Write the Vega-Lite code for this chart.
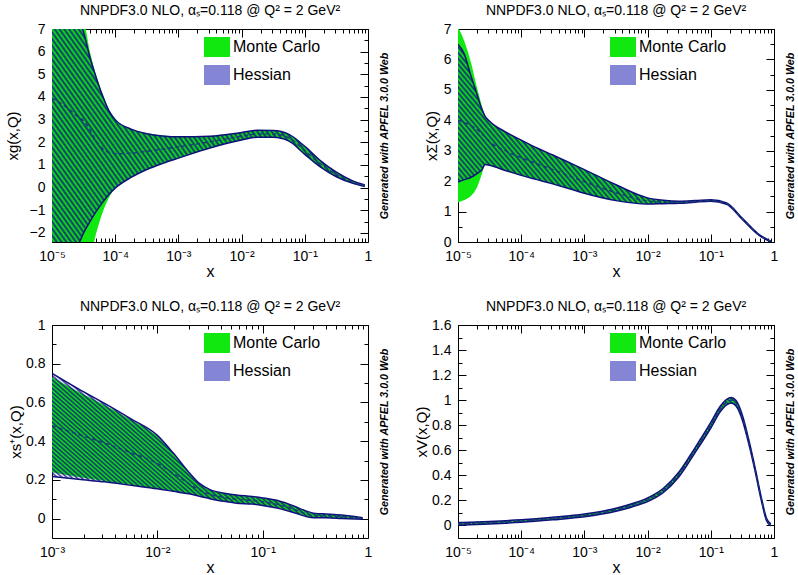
{
"$schema": "https://vega.github.io/schema/vega-lite/v6.json",
"background": "white",
"padding": {"left": 4, "top": 3, "right": 2, "bottom": 0},
"columns": 2,
"spacing": {"row": 83, "column": 90},
"bounds": "flush",
"resolve": {"scale": {"fill": "independent"}, "legend": {"fill": "independent"}},
"concat": [
{
 "width": 316, "height": 213,
 "title": {"text": "NNPDF3.0 NLO, αₛ=0.118 @ Q² = 2 GeV²"},
 "data": {"values": [
{"x":0.00001,"mcu":7.6,"mcl":-2.7,"hu":7.6,"hl":-2.7,"c":3.95},
{"x":0.0000178,"mcu":7.6,"mcl":-2.7,"hu":7.6,"hl":-2.7,"c":3.5},
{"x":0.0000251,"mcu":7.6,"mcl":-2.7,"hu":7.6,"hl":-2.55,"c":3.15},
{"x":0.0000316,"mcu":7.35,"mcl":-2.7,"hu":6.85,"hl":-2.0,"c":2.95},
{"x":0.0000398,"mcu":6.0,"mcl":-3.0,"hu":5.75,"hl":-1.5,"c":2.55},
{"x":0.0000501,"mcu":4.95,"mcl":-2.0,"hu":4.85,"hl":-1.05,"c":2.05},
{"x":0.0000631,"mcu":4.15,"mcl":-1.1,"hu":4.05,"hl":-0.65,"c":1.72},
{"x":0.0000794,"mcu":3.45,"mcl":-0.45,"hu":3.4,"hl":-0.3,"c":1.56},
{"x":0.0001,"mcu":3.02,"mcl":-0.02,"hu":3.0,"hl":-0.02,"c":1.5},
{"x":0.000178,"mcu":2.6,"mcl":0.45,"hu":2.58,"hl":0.45,"c":1.52},
{"x":0.000316,"mcu":2.4,"mcl":0.8,"hu":2.38,"hl":0.8,"c":1.6},
{"x":0.000562,"mcu":2.3,"mcl":1.07,"hu":2.28,"hl":1.07,"c":1.7},
{"x":0.001,"mcu":2.25,"mcl":1.3,"hu":2.24,"hl":1.3,"c":1.8},
{"x":0.00316,"mcu":2.28,"mcl":1.75,"hu":2.27,"hl":1.75,"c":2.02},
{"x":0.01,"mcu":2.43,"mcl":2.1,"hu":2.43,"hl":2.1,"c":2.27},
{"x":0.0178,"mcu":2.53,"mcl":2.22,"hu":2.53,"hl":2.22,"c":2.37},
{"x":0.0316,"mcu":2.52,"mcl":2.22,"hu":2.52,"hl":2.22,"c":2.37},
{"x":0.0562,"mcu":2.35,"mcl":2.05,"hu":2.35,"hl":2.05,"c":2.2},
{"x":0.1,"mcu":1.82,"mcl":1.47,"hu":1.82,"hl":1.47,"c":1.64},
{"x":0.178,"mcu":1.18,"mcl":0.9,"hu":1.18,"hl":0.9,"c":1.04},
{"x":0.316,"mcu":0.68,"mcl":0.48,"hu":0.68,"hl":0.48,"c":0.58},
{"x":0.562,"mcu":0.31,"mcl":0.2,"hu":0.31,"hl":0.2,"c":0.26},
{"x":0.891,"mcu":0.12,"mcl":0.05,"hu":0.12,"hl":0.05,"c":0.08}
 ]},
 "resolve": {"axis": {"x": "independent", "y": "independent"}},
 "layer": [
  {"mark": {"type": "area", "clip": true, "opacity": 1, "interpolate": "monotone"},
   "encoding": {
    "x": {"field": "x", "type": "quantitative", "scale": {"type": "log", "domain": [0.00001, 1], "nice": false},
      "axis": {"orient": "bottom", "values": [0.00001,0.00002,0.00003,0.00004,0.00005,0.00006,0.00007,0.00008,0.00009,0.0001,0.0002,0.0003,0.0004,0.0005,0.0006,0.0007,0.0008,0.0009,0.001,0.002,0.003,0.004,0.005,0.006,0.007,0.008,0.009,0.01,0.02,0.03,0.04,0.05,0.06,0.07,0.08,0.09,0.1,0.2,0.3,0.4,0.5,0.6,0.7,0.8,0.9,1],
        "labelExpr": "abs(log(datum.value)/LN10 - round(log(datum.value)/LN10)) > 0.000001 ? '' : (round(log(datum.value)/LN10) == 0 ? '1' : '10' + ['⁻⁵','⁻⁴','⁻³','⁻²','⁻¹'][round(log(datum.value)/LN10) + 5])",
        "tickSize": {"condition": {"test": "abs(log(datum.value)/LN10 - round(log(datum.value)/LN10)) < 0.000001", "value": -8}, "value": -4},
        "labelPadding": 15, "title": "x", "titleX": 158, "titleY": 29, "titleBaseline": "middle", "titleFontSize": 16}},
    "y": {"field": "mcl", "type": "quantitative", "scale": {"domain": [-2.4, 7], "nice": false, "zero": false},
      "axis": {"orient": "left", "values": [-2,-1.5,-1,-0.5,0,0.5,1,1.5,2,2.5,3,3.5,4,4.5,5,5.5,6,6.5,7],
        "labelExpr": "datum.value % 1 === 0 ? format(datum.value, '~g') : ''",
        "tickSize": {"condition": {"test": "datum.value % 1 === 0", "value": -8}, "value": -4},
        "labelPadding": 15, "title": "xg(x,Q)", "titleX": -40, "titleBaseline": "middle"}},
    "y2": {"field": "mcu"},
    "fill": {"datum": "Monte Carlo", "type": "nominal", "scale": {"domain": ["Monte Carlo", "Hessian"], "range": ["#10e810", "#8585d5"]},
      "legend": {"title": null, "orient": "none", "legendX": 155, "legendY": 8, "symbolType": "M-1.3,-1H1.3V1H-1.3Z", "symbolSize": 400, "symbolStrokeWidth": 0, "symbolOpacity": 1, "labelFontSize": 16, "labelFont": "Liberation Sans", "labelColor": "#000", "rowPadding": 8, "labelOffset": 6, "padding": 0}}
   }},
  {"mark": {"type": "area", "clip": true, "interpolate": "monotone", "opacity": 1, "fill": {"gradient": "linear", "x1": 0, "y1": 1, "x2": 1.2, "y2": 0.364, "stops": [
{"offset":0,"color":"#118d"},{"offset":0.005,"color":"#1180"},{"offset":0.01,"color":"#118d"},{"offset":0.015,"color":"#1180"},{"offset":0.02,"color":"#118d"},{"offset":0.025,"color":"#1180"},{"offset":0.03,"color":"#118d"},{"offset":0.035,"color":"#1180"},{"offset":0.04,"color":"#118d"},{"offset":0.045,"color":"#1180"},
{"offset":0.05,"color":"#118d"},{"offset":0.055,"color":"#1180"},{"offset":0.06,"color":"#118d"},{"offset":0.065,"color":"#1180"},{"offset":0.07,"color":"#118d"},{"offset":0.075,"color":"#1180"},{"offset":0.08,"color":"#118d"},{"offset":0.085,"color":"#1180"},{"offset":0.09,"color":"#118d"},{"offset":0.095,"color":"#1180"},
{"offset":0.1,"color":"#118d"},{"offset":0.105,"color":"#1180"},{"offset":0.11,"color":"#118d"},{"offset":0.115,"color":"#1180"},{"offset":0.12,"color":"#118d"},{"offset":0.125,"color":"#1180"},{"offset":0.13,"color":"#118d"},{"offset":0.135,"color":"#1180"},{"offset":0.14,"color":"#118d"},{"offset":0.145,"color":"#1180"},
{"offset":0.15,"color":"#118d"},{"offset":0.155,"color":"#1180"},{"offset":0.16,"color":"#118d"},{"offset":0.165,"color":"#1180"},{"offset":0.17,"color":"#118d"},{"offset":0.175,"color":"#1180"},{"offset":0.18,"color":"#118d"},{"offset":0.185,"color":"#1180"},{"offset":0.19,"color":"#118d"},{"offset":0.195,"color":"#1180"},
{"offset":0.2,"color":"#118d"},{"offset":0.205,"color":"#1180"},{"offset":0.21,"color":"#118d"},{"offset":0.215,"color":"#1180"},{"offset":0.22,"color":"#118d"},{"offset":0.225,"color":"#1180"},{"offset":0.23,"color":"#118d"},{"offset":0.235,"color":"#1180"},{"offset":0.24,"color":"#118d"},{"offset":0.245,"color":"#1180"},
{"offset":0.25,"color":"#118d"},{"offset":0.255,"color":"#1180"},{"offset":0.26,"color":"#118d"},{"offset":0.265,"color":"#1180"},{"offset":0.27,"color":"#118d"},{"offset":0.275,"color":"#1180"},{"offset":0.28,"color":"#118d"},{"offset":0.285,"color":"#1180"},{"offset":0.29,"color":"#118d"},{"offset":0.295,"color":"#1180"},
{"offset":0.3,"color":"#118d"},{"offset":0.305,"color":"#1180"},{"offset":0.31,"color":"#118d"},{"offset":0.315,"color":"#1180"},{"offset":0.32,"color":"#118d"},{"offset":0.325,"color":"#1180"},{"offset":0.33,"color":"#118d"},{"offset":0.335,"color":"#1180"},{"offset":0.34,"color":"#118d"},{"offset":0.345,"color":"#1180"},
{"offset":0.35,"color":"#118d"},{"offset":0.355,"color":"#1180"},{"offset":0.36,"color":"#118d"},{"offset":0.365,"color":"#1180"},{"offset":0.37,"color":"#118d"},{"offset":0.375,"color":"#1180"},{"offset":0.38,"color":"#118d"},{"offset":0.385,"color":"#1180"},{"offset":0.39,"color":"#118d"},{"offset":0.395,"color":"#1180"},
{"offset":0.4,"color":"#118d"},{"offset":0.405,"color":"#1180"},{"offset":0.41,"color":"#118d"},{"offset":0.415,"color":"#1180"},{"offset":0.42,"color":"#118d"},{"offset":0.425,"color":"#1180"},{"offset":0.43,"color":"#118d"},{"offset":0.435,"color":"#1180"},{"offset":0.44,"color":"#118d"},{"offset":0.445,"color":"#1180"},
{"offset":0.45,"color":"#118d"},{"offset":0.455,"color":"#1180"},{"offset":0.46,"color":"#118d"},{"offset":0.465,"color":"#1180"},{"offset":0.47,"color":"#118d"},{"offset":0.475,"color":"#1180"},{"offset":0.48,"color":"#118d"},{"offset":0.485,"color":"#1180"},{"offset":0.49,"color":"#118d"},{"offset":0.495,"color":"#1180"},
{"offset":0.5,"color":"#118d"},{"offset":0.505,"color":"#1180"},{"offset":0.51,"color":"#118d"},{"offset":0.515,"color":"#1180"},{"offset":0.52,"color":"#118d"},{"offset":0.525,"color":"#1180"},{"offset":0.53,"color":"#118d"},{"offset":0.535,"color":"#1180"},{"offset":0.54,"color":"#118d"},{"offset":0.545,"color":"#1180"},
{"offset":0.55,"color":"#118d"},{"offset":0.555,"color":"#1180"},{"offset":0.56,"color":"#118d"},{"offset":0.565,"color":"#1180"},{"offset":0.57,"color":"#118d"},{"offset":0.575,"color":"#1180"},{"offset":0.58,"color":"#118d"},{"offset":0.585,"color":"#1180"},{"offset":0.59,"color":"#118d"},{"offset":0.595,"color":"#1180"},
{"offset":0.6,"color":"#118d"},{"offset":0.605,"color":"#1180"},{"offset":0.61,"color":"#118d"},{"offset":0.615,"color":"#1180"},{"offset":0.62,"color":"#118d"},{"offset":0.625,"color":"#1180"},{"offset":0.63,"color":"#118d"},{"offset":0.635,"color":"#1180"},{"offset":0.64,"color":"#118d"},{"offset":0.645,"color":"#1180"},
{"offset":0.65,"color":"#118d"},{"offset":0.655,"color":"#1180"},{"offset":0.66,"color":"#118d"},{"offset":0.665,"color":"#1180"},{"offset":0.67,"color":"#118d"},{"offset":0.675,"color":"#1180"},{"offset":0.68,"color":"#118d"},{"offset":0.685,"color":"#1180"},{"offset":0.69,"color":"#118d"},{"offset":0.695,"color":"#1180"},
{"offset":0.7,"color":"#118d"},{"offset":0.705,"color":"#1180"},{"offset":0.71,"color":"#118d"},{"offset":0.715,"color":"#1180"},{"offset":0.72,"color":"#118d"},{"offset":0.725,"color":"#1180"},{"offset":0.73,"color":"#118d"},{"offset":0.735,"color":"#1180"},{"offset":0.74,"color":"#118d"},{"offset":0.745,"color":"#1180"},
{"offset":0.75,"color":"#118d"},{"offset":0.755,"color":"#1180"},{"offset":0.76,"color":"#118d"},{"offset":0.765,"color":"#1180"},{"offset":0.77,"color":"#118d"},{"offset":0.775,"color":"#1180"},{"offset":0.78,"color":"#118d"},{"offset":0.785,"color":"#1180"},{"offset":0.79,"color":"#118d"},{"offset":0.795,"color":"#1180"},
{"offset":0.8,"color":"#118d"},{"offset":0.805,"color":"#1180"},{"offset":0.81,"color":"#118d"},{"offset":0.815,"color":"#1180"},{"offset":0.82,"color":"#118d"},{"offset":0.825,"color":"#1180"},{"offset":0.83,"color":"#118d"},{"offset":0.835,"color":"#1180"},{"offset":0.84,"color":"#118d"},{"offset":0.845,"color":"#1180"},
{"offset":0.85,"color":"#118d"},{"offset":0.855,"color":"#1180"},{"offset":0.86,"color":"#118d"},{"offset":0.865,"color":"#1180"},{"offset":0.87,"color":"#118d"},{"offset":0.875,"color":"#1180"},{"offset":0.88,"color":"#118d"},{"offset":0.885,"color":"#1180"},{"offset":0.89,"color":"#118d"},{"offset":0.895,"color":"#1180"},
{"offset":0.9,"color":"#118d"},{"offset":0.905,"color":"#1180"},{"offset":0.91,"color":"#118d"},{"offset":0.915,"color":"#1180"},{"offset":0.92,"color":"#118d"},{"offset":0.925,"color":"#1180"},{"offset":0.93,"color":"#118d"},{"offset":0.935,"color":"#1180"},{"offset":0.94,"color":"#118d"},{"offset":0.945,"color":"#1180"},
{"offset":0.95,"color":"#118d"},{"offset":0.955,"color":"#1180"},{"offset":0.96,"color":"#118d"},{"offset":0.965,"color":"#1180"},{"offset":0.97,"color":"#118d"},{"offset":0.975,"color":"#1180"},{"offset":0.98,"color":"#118d"},{"offset":0.985,"color":"#1180"},{"offset":0.99,"color":"#118d"},{"offset":0.995,"color":"#1180"},
{"offset":1,"color":"#118d"}]}},
   "encoding": {"x": {"field": "x", "type": "quantitative", "axis": null}, "y": {"field": "hl", "type": "quantitative", "axis": null}, "y2": {"field": "hu"}}},
  {"mark": {"type": "line", "clip": true, "stroke": "#10107a", "strokeWidth": 1.5, "interpolate": "monotone"},
   "encoding": {"x": {"field": "x", "type": "quantitative", "axis": null}, "y": {"field": "hu", "type": "quantitative", "axis": null}}},
  {"mark": {"type": "line", "clip": true, "stroke": "#10107a", "strokeWidth": 1.5, "interpolate": "monotone"},
   "encoding": {"x": {"field": "x", "type": "quantitative", "axis": null}, "y": {"field": "hl", "type": "quantitative", "axis": null}}},
  {"mark": {"type": "line", "clip": true, "stroke": "#1a3a7a", "strokeWidth": 1.4, "strokeDash": [4, 3], "interpolate": "monotone"},
   "encoding": {"x": {"field": "x", "type": "quantitative", "axis": null}, "y": {"field": "c", "type": "quantitative", "axis": null}}},
  {"mark": {"type": "line", "opacity": 0},
   "encoding": {
    "x": {"field": "x", "type": "quantitative", "axis": {"orient": "top", "values": [0.00001,0.00002,0.00003,0.00004,0.00005,0.00006,0.00007,0.00008,0.00009,0.0001,0.0002,0.0003,0.0004,0.0005,0.0006,0.0007,0.0008,0.0009,0.001,0.002,0.003,0.004,0.005,0.006,0.007,0.008,0.009,0.01,0.02,0.03,0.04,0.05,0.06,0.07,0.08,0.09,0.1,0.2,0.3,0.4,0.5,0.6,0.7,0.8,0.9,1], "labels": false, "title": null,
      "tickSize": {"condition": {"test": "abs(log(datum.value)/LN10 - round(log(datum.value)/LN10)) < 0.000001", "value": -8}, "value": -4}}},
    "y": {"field": "c", "type": "quantitative", "axis": {"orient": "right", "values": [-2,-1.5,-1,-0.5,0,0.5,1,1.5,2,2.5,3,3.5,4,4.5,5,5.5,6,6.5,7], "labels": false,
      "tickSize": {"condition": {"test": "datum.value % 1 === 0", "value": -8}, "value": -4},
      "title": "Generated with APFEL 3.0.0 Web", "titleAngle": 270, "titleX": 16, "titleBaseline": "middle", "titleFontStyle": "italic", "titleFontWeight": "bold", "titleFontSize": 10.7}}
   }}
 ]
},
{
 "width": 316, "height": 213,
 "title": {"text": "NNPDF3.0 NLO, αₛ=0.118 @ Q² = 2 GeV²"},
 "data": {"values": [
{"x":0.00001,"mcu":7.06,"mcl":1.3,"hu":6.5,"hl":1.97,"c":4.0},
{"x":0.0000126,"mcu":6.6,"mcl":1.38,"hu":6.17,"hl":2.05,"c":3.93},
{"x":0.0000158,"mcu":5.95,"mcl":1.5,"hu":5.5,"hl":2.12,"c":3.83},
{"x":0.00002,"mcu":5.07,"mcl":1.8,"hu":4.85,"hl":2.25,"c":3.7},
{"x":0.000024,"mcu":4.46,"mcl":2.25,"hu":4.35,"hl":2.38,"c":3.55},
{"x":0.0000269,"mcu":4.13,"mcl":2.55,"hu":4.13,"hl":2.55,"c":3.45},
{"x":0.0000316,"mcu":3.97,"mcl":2.52,"hu":3.97,"hl":2.52,"c":3.3},
{"x":0.0000562,"mcu":3.62,"mcl":2.35,"hu":3.62,"hl":2.35,"c":3.0},
{"x":0.0001,"mcu":3.35,"mcl":2.19,"hu":3.35,"hl":2.19,"c":2.77},
{"x":0.000178,"mcu":3.09,"mcl":2.05,"hu":3.09,"hl":2.05,"c":2.57},
{"x":0.000316,"mcu":2.86,"mcl":1.91,"hu":2.86,"hl":1.91,"c":2.38},
{"x":0.000562,"mcu":2.62,"mcl":1.76,"hu":2.62,"hl":1.76,"c":2.18},
{"x":0.001,"mcu":2.38,"mcl":1.6,"hu":2.38,"hl":1.6,"c":1.98},
{"x":0.00316,"mcu":1.88,"mcl":1.36,"hu":1.88,"hl":1.36,"c":1.62},
{"x":0.01,"mcu":1.45,"mcl":1.25,"hu":1.45,"hl":1.25,"c":1.35},
{"x":0.0178,"mcu":1.37,"mcl":1.26,"hu":1.37,"hl":1.26,"c":1.31},
{"x":0.0316,"mcu":1.34,"mcl":1.27,"hu":1.34,"hl":1.27,"c":1.3},
{"x":0.0562,"mcu":1.36,"mcl":1.31,"hu":1.36,"hl":1.31,"c":1.33},
{"x":0.1,"mcu":1.39,"mcl":1.34,"hu":1.39,"hl":1.34,"c":1.36},
{"x":0.178,"mcu":1.28,"mcl":1.24,"hu":1.28,"hl":1.24,"c":1.26},
{"x":0.316,"mcu":0.78,"mcl":0.74,"hu":0.78,"hl":0.74,"c":0.76},
{"x":0.562,"mcu":0.27,"mcl":0.24,"hu":0.27,"hl":0.24,"c":0.25},
{"x":0.891,"mcu":0.03,"mcl":0.0,"hu":0.03,"hl":0.0,"c":0.015}
 ]},
 "resolve": {"axis": {"x": "independent", "y": "independent"}},
 "layer": [
  {"mark": {"type": "area", "clip": true, "opacity": 1, "interpolate": "monotone"},
   "encoding": {
    "x": {"field": "x", "type": "quantitative", "scale": {"type": "log", "domain": [0.00001, 1], "nice": false},
      "axis": {"orient": "bottom", "values": [0.00001,0.00002,0.00003,0.00004,0.00005,0.00006,0.00007,0.00008,0.00009,0.0001,0.0002,0.0003,0.0004,0.0005,0.0006,0.0007,0.0008,0.0009,0.001,0.002,0.003,0.004,0.005,0.006,0.007,0.008,0.009,0.01,0.02,0.03,0.04,0.05,0.06,0.07,0.08,0.09,0.1,0.2,0.3,0.4,0.5,0.6,0.7,0.8,0.9,1],
        "labelExpr": "abs(log(datum.value)/LN10 - round(log(datum.value)/LN10)) > 0.000001 ? '' : (round(log(datum.value)/LN10) == 0 ? '1' : '10' + ['⁻⁵','⁻⁴','⁻³','⁻²','⁻¹'][round(log(datum.value)/LN10) + 5])",
        "tickSize": {"condition": {"test": "abs(log(datum.value)/LN10 - round(log(datum.value)/LN10)) < 0.000001", "value": -8}, "value": -4},
        "labelPadding": 15, "title": "x", "titleX": 158, "titleY": 29, "titleBaseline": "middle", "titleFontSize": 16}},
    "y": {"field": "mcl", "type": "quantitative", "scale": {"domain": [0, 7], "nice": false, "zero": false},
      "axis": {"orient": "left", "values": [0,0.5,1,1.5,2,2.5,3,3.5,4,4.5,5,5.5,6,6.5,7],
        "labelExpr": "datum.value % 1 === 0 ? format(datum.value, '~g') : ''",
        "tickSize": {"condition": {"test": "datum.value % 1 === 0", "value": -8}, "value": -4},
        "labelPadding": 15, "title": "xΣ(x,Q)", "titleX": -27, "titleBaseline": "middle"}},
    "y2": {"field": "mcu"},
    "fill": {"datum": "Monte Carlo", "type": "nominal", "scale": {"domain": ["Monte Carlo", "Hessian"], "range": ["#10e810", "#8585d5"]},
      "legend": {"title": null, "orient": "none", "legendX": 155, "legendY": 8, "symbolType": "M-1.3,-1H1.3V1H-1.3Z", "symbolSize": 400, "symbolStrokeWidth": 0, "symbolOpacity": 1, "labelFontSize": 16, "labelFont": "Liberation Sans", "labelColor": "#000", "rowPadding": 8, "labelOffset": 6, "padding": 0}}
   }},
  {"mark": {"type": "area", "clip": true, "interpolate": "monotone", "opacity": 1, "fill": {"gradient": "linear", "x1": 0, "y1": 1, "x2": 1.2, "y2": 0.364, "stops": [
{"offset":0,"color":"#118d"},{"offset":0.005,"color":"#1180"},{"offset":0.01,"color":"#118d"},{"offset":0.015,"color":"#1180"},{"offset":0.02,"color":"#118d"},{"offset":0.025,"color":"#1180"},{"offset":0.03,"color":"#118d"},{"offset":0.035,"color":"#1180"},{"offset":0.04,"color":"#118d"},{"offset":0.045,"color":"#1180"},
{"offset":0.05,"color":"#118d"},{"offset":0.055,"color":"#1180"},{"offset":0.06,"color":"#118d"},{"offset":0.065,"color":"#1180"},{"offset":0.07,"color":"#118d"},{"offset":0.075,"color":"#1180"},{"offset":0.08,"color":"#118d"},{"offset":0.085,"color":"#1180"},{"offset":0.09,"color":"#118d"},{"offset":0.095,"color":"#1180"},
{"offset":0.1,"color":"#118d"},{"offset":0.105,"color":"#1180"},{"offset":0.11,"color":"#118d"},{"offset":0.115,"color":"#1180"},{"offset":0.12,"color":"#118d"},{"offset":0.125,"color":"#1180"},{"offset":0.13,"color":"#118d"},{"offset":0.135,"color":"#1180"},{"offset":0.14,"color":"#118d"},{"offset":0.145,"color":"#1180"},
{"offset":0.15,"color":"#118d"},{"offset":0.155,"color":"#1180"},{"offset":0.16,"color":"#118d"},{"offset":0.165,"color":"#1180"},{"offset":0.17,"color":"#118d"},{"offset":0.175,"color":"#1180"},{"offset":0.18,"color":"#118d"},{"offset":0.185,"color":"#1180"},{"offset":0.19,"color":"#118d"},{"offset":0.195,"color":"#1180"},
{"offset":0.2,"color":"#118d"},{"offset":0.205,"color":"#1180"},{"offset":0.21,"color":"#118d"},{"offset":0.215,"color":"#1180"},{"offset":0.22,"color":"#118d"},{"offset":0.225,"color":"#1180"},{"offset":0.23,"color":"#118d"},{"offset":0.235,"color":"#1180"},{"offset":0.24,"color":"#118d"},{"offset":0.245,"color":"#1180"},
{"offset":0.25,"color":"#118d"},{"offset":0.255,"color":"#1180"},{"offset":0.26,"color":"#118d"},{"offset":0.265,"color":"#1180"},{"offset":0.27,"color":"#118d"},{"offset":0.275,"color":"#1180"},{"offset":0.28,"color":"#118d"},{"offset":0.285,"color":"#1180"},{"offset":0.29,"color":"#118d"},{"offset":0.295,"color":"#1180"},
{"offset":0.3,"color":"#118d"},{"offset":0.305,"color":"#1180"},{"offset":0.31,"color":"#118d"},{"offset":0.315,"color":"#1180"},{"offset":0.32,"color":"#118d"},{"offset":0.325,"color":"#1180"},{"offset":0.33,"color":"#118d"},{"offset":0.335,"color":"#1180"},{"offset":0.34,"color":"#118d"},{"offset":0.345,"color":"#1180"},
{"offset":0.35,"color":"#118d"},{"offset":0.355,"color":"#1180"},{"offset":0.36,"color":"#118d"},{"offset":0.365,"color":"#1180"},{"offset":0.37,"color":"#118d"},{"offset":0.375,"color":"#1180"},{"offset":0.38,"color":"#118d"},{"offset":0.385,"color":"#1180"},{"offset":0.39,"color":"#118d"},{"offset":0.395,"color":"#1180"},
{"offset":0.4,"color":"#118d"},{"offset":0.405,"color":"#1180"},{"offset":0.41,"color":"#118d"},{"offset":0.415,"color":"#1180"},{"offset":0.42,"color":"#118d"},{"offset":0.425,"color":"#1180"},{"offset":0.43,"color":"#118d"},{"offset":0.435,"color":"#1180"},{"offset":0.44,"color":"#118d"},{"offset":0.445,"color":"#1180"},
{"offset":0.45,"color":"#118d"},{"offset":0.455,"color":"#1180"},{"offset":0.46,"color":"#118d"},{"offset":0.465,"color":"#1180"},{"offset":0.47,"color":"#118d"},{"offset":0.475,"color":"#1180"},{"offset":0.48,"color":"#118d"},{"offset":0.485,"color":"#1180"},{"offset":0.49,"color":"#118d"},{"offset":0.495,"color":"#1180"},
{"offset":0.5,"color":"#118d"},{"offset":0.505,"color":"#1180"},{"offset":0.51,"color":"#118d"},{"offset":0.515,"color":"#1180"},{"offset":0.52,"color":"#118d"},{"offset":0.525,"color":"#1180"},{"offset":0.53,"color":"#118d"},{"offset":0.535,"color":"#1180"},{"offset":0.54,"color":"#118d"},{"offset":0.545,"color":"#1180"},
{"offset":0.55,"color":"#118d"},{"offset":0.555,"color":"#1180"},{"offset":0.56,"color":"#118d"},{"offset":0.565,"color":"#1180"},{"offset":0.57,"color":"#118d"},{"offset":0.575,"color":"#1180"},{"offset":0.58,"color":"#118d"},{"offset":0.585,"color":"#1180"},{"offset":0.59,"color":"#118d"},{"offset":0.595,"color":"#1180"},
{"offset":0.6,"color":"#118d"},{"offset":0.605,"color":"#1180"},{"offset":0.61,"color":"#118d"},{"offset":0.615,"color":"#1180"},{"offset":0.62,"color":"#118d"},{"offset":0.625,"color":"#1180"},{"offset":0.63,"color":"#118d"},{"offset":0.635,"color":"#1180"},{"offset":0.64,"color":"#118d"},{"offset":0.645,"color":"#1180"},
{"offset":0.65,"color":"#118d"},{"offset":0.655,"color":"#1180"},{"offset":0.66,"color":"#118d"},{"offset":0.665,"color":"#1180"},{"offset":0.67,"color":"#118d"},{"offset":0.675,"color":"#1180"},{"offset":0.68,"color":"#118d"},{"offset":0.685,"color":"#1180"},{"offset":0.69,"color":"#118d"},{"offset":0.695,"color":"#1180"},
{"offset":0.7,"color":"#118d"},{"offset":0.705,"color":"#1180"},{"offset":0.71,"color":"#118d"},{"offset":0.715,"color":"#1180"},{"offset":0.72,"color":"#118d"},{"offset":0.725,"color":"#1180"},{"offset":0.73,"color":"#118d"},{"offset":0.735,"color":"#1180"},{"offset":0.74,"color":"#118d"},{"offset":0.745,"color":"#1180"},
{"offset":0.75,"color":"#118d"},{"offset":0.755,"color":"#1180"},{"offset":0.76,"color":"#118d"},{"offset":0.765,"color":"#1180"},{"offset":0.77,"color":"#118d"},{"offset":0.775,"color":"#1180"},{"offset":0.78,"color":"#118d"},{"offset":0.785,"color":"#1180"},{"offset":0.79,"color":"#118d"},{"offset":0.795,"color":"#1180"},
{"offset":0.8,"color":"#118d"},{"offset":0.805,"color":"#1180"},{"offset":0.81,"color":"#118d"},{"offset":0.815,"color":"#1180"},{"offset":0.82,"color":"#118d"},{"offset":0.825,"color":"#1180"},{"offset":0.83,"color":"#118d"},{"offset":0.835,"color":"#1180"},{"offset":0.84,"color":"#118d"},{"offset":0.845,"color":"#1180"},
{"offset":0.85,"color":"#118d"},{"offset":0.855,"color":"#1180"},{"offset":0.86,"color":"#118d"},{"offset":0.865,"color":"#1180"},{"offset":0.87,"color":"#118d"},{"offset":0.875,"color":"#1180"},{"offset":0.88,"color":"#118d"},{"offset":0.885,"color":"#1180"},{"offset":0.89,"color":"#118d"},{"offset":0.895,"color":"#1180"},
{"offset":0.9,"color":"#118d"},{"offset":0.905,"color":"#1180"},{"offset":0.91,"color":"#118d"},{"offset":0.915,"color":"#1180"},{"offset":0.92,"color":"#118d"},{"offset":0.925,"color":"#1180"},{"offset":0.93,"color":"#118d"},{"offset":0.935,"color":"#1180"},{"offset":0.94,"color":"#118d"},{"offset":0.945,"color":"#1180"},
{"offset":0.95,"color":"#118d"},{"offset":0.955,"color":"#1180"},{"offset":0.96,"color":"#118d"},{"offset":0.965,"color":"#1180"},{"offset":0.97,"color":"#118d"},{"offset":0.975,"color":"#1180"},{"offset":0.98,"color":"#118d"},{"offset":0.985,"color":"#1180"},{"offset":0.99,"color":"#118d"},{"offset":0.995,"color":"#1180"},
{"offset":1,"color":"#118d"}]}},
   "encoding": {"x": {"field": "x", "type": "quantitative", "axis": null}, "y": {"field": "hl", "type": "quantitative", "axis": null}, "y2": {"field": "hu"}}},
  {"mark": {"type": "line", "clip": true, "stroke": "#10107a", "strokeWidth": 1.5, "interpolate": "monotone"},
   "encoding": {"x": {"field": "x", "type": "quantitative", "axis": null}, "y": {"field": "hu", "type": "quantitative", "axis": null}}},
  {"mark": {"type": "line", "clip": true, "stroke": "#10107a", "strokeWidth": 1.5, "interpolate": "monotone"},
   "encoding": {"x": {"field": "x", "type": "quantitative", "axis": null}, "y": {"field": "hl", "type": "quantitative", "axis": null}}},
  {"mark": {"type": "line", "clip": true, "stroke": "#1a3a7a", "strokeWidth": 1.4, "strokeDash": [4, 3], "interpolate": "monotone"},
   "encoding": {"x": {"field": "x", "type": "quantitative", "axis": null}, "y": {"field": "c", "type": "quantitative", "axis": null}}},
  {"mark": {"type": "line", "opacity": 0},
   "encoding": {
    "x": {"field": "x", "type": "quantitative", "axis": {"orient": "top", "values": [0.00001,0.00002,0.00003,0.00004,0.00005,0.00006,0.00007,0.00008,0.00009,0.0001,0.0002,0.0003,0.0004,0.0005,0.0006,0.0007,0.0008,0.0009,0.001,0.002,0.003,0.004,0.005,0.006,0.007,0.008,0.009,0.01,0.02,0.03,0.04,0.05,0.06,0.07,0.08,0.09,0.1,0.2,0.3,0.4,0.5,0.6,0.7,0.8,0.9,1], "labels": false, "title": null,
      "tickSize": {"condition": {"test": "abs(log(datum.value)/LN10 - round(log(datum.value)/LN10)) < 0.000001", "value": -8}, "value": -4}}},
    "y": {"field": "c", "type": "quantitative", "axis": {"orient": "right", "values": [0,0.5,1,1.5,2,2.5,3,3.5,4,4.5,5,5.5,6,6.5,7], "labels": false,
      "tickSize": {"condition": {"test": "datum.value % 1 === 0", "value": -8}, "value": -4},
      "title": "Generated with APFEL 3.0.0 Web", "titleAngle": 270, "titleX": 16, "titleBaseline": "middle", "titleFontStyle": "italic", "titleFontWeight": "bold", "titleFontSize": 10.7}}
   }}
 ]
},
{
 "width": 316, "height": 213,
 "title": {"text": "NNPDF3.0 NLO, αₛ=0.118 @ Q² = 2 GeV²"},
 "data": {"values": [
{"x":0.001,"mcu":0.73,"mcl":0.24,"hu":0.75,"hl":0.218,"c":0.48},
{"x":0.00178,"mcu":0.655,"mcl":0.215,"hu":0.67,"hl":0.203,"c":0.435},
{"x":0.00316,"mcu":0.585,"mcl":0.195,"hu":0.595,"hl":0.19,"c":0.39},
{"x":0.00562,"mcu":0.51,"mcl":0.175,"hu":0.515,"hl":0.172,"c":0.34},
{"x":0.01,"mcu":0.425,"mcl":0.155,"hu":0.43,"hl":0.154,"c":0.285},
{"x":0.0141,"mcu":0.335,"mcl":0.142,"hu":0.34,"hl":0.141,"c":0.235},
{"x":0.02,"mcu":0.235,"mcl":0.13,"hu":0.238,"hl":0.128,"c":0.18},
{"x":0.0251,"mcu":0.18,"mcl":0.118,"hu":0.182,"hl":0.116,"c":0.148},
{"x":0.0316,"mcu":0.148,"mcl":0.105,"hu":0.15,"hl":0.103,"c":0.126},
{"x":0.0447,"mcu":0.128,"mcl":0.09,"hu":0.13,"hl":0.088,"c":0.108},
{"x":0.0562,"mcu":0.12,"mcl":0.082,"hu":0.122,"hl":0.08,"c":0.1},
{"x":0.0794,"mcu":0.112,"mcl":0.077,"hu":0.114,"hl":0.075,"c":0.094},
{"x":0.1,"mcu":0.105,"mcl":0.07,"hu":0.107,"hl":0.068,"c":0.088},
{"x":0.141,"mcu":0.09,"mcl":0.055,"hu":0.092,"hl":0.053,"c":0.072},
{"x":0.2,"mcu":0.062,"mcl":0.032,"hu":0.064,"hl":0.03,"c":0.047},
{"x":0.251,"mcu":0.04,"mcl":0.015,"hu":0.042,"hl":0.013,"c":0.027},
{"x":0.316,"mcu":0.025,"mcl":0.006,"hu":0.027,"hl":0.004,"c":0.015},
{"x":0.398,"mcu":0.022,"mcl":0.006,"hu":0.024,"hl":0.004,"c":0.014},
{"x":0.562,"mcu":0.017,"mcl":0.003,"hu":0.019,"hl":0.001,"c":0.01},
{"x":0.891,"mcu":0.004,"mcl":-0.002,"hu":0.005,"hl":-0.003,"c":0.001}
 ]},
 "resolve": {"axis": {"x": "independent", "y": "independent"}},
 "layer": [
  {"mark": {"type": "area", "clip": true, "opacity": 1, "interpolate": "monotone"},
   "encoding": {
    "x": {"field": "x", "type": "quantitative", "scale": {"type": "log", "domain": [0.001, 1], "nice": false},
      "axis": {"orient": "bottom", "values": [0.001,0.002,0.003,0.004,0.005,0.006,0.007,0.008,0.009,0.01,0.02,0.03,0.04,0.05,0.06,0.07,0.08,0.09,0.1,0.2,0.3,0.4,0.5,0.6,0.7,0.8,0.9,1],
        "labelExpr": "abs(log(datum.value)/LN10 - round(log(datum.value)/LN10)) > 0.000001 ? '' : (round(log(datum.value)/LN10) == 0 ? '1' : '10' + ['⁻⁵','⁻⁴','⁻³','⁻²','⁻¹'][round(log(datum.value)/LN10) + 5])",
        "tickSize": {"condition": {"test": "abs(log(datum.value)/LN10 - round(log(datum.value)/LN10)) < 0.000001", "value": -8}, "value": -4},
        "labelPadding": 15, "title": "x", "titleX": 158, "titleY": 29, "titleBaseline": "middle", "titleFontSize": 16}},
    "y": {"field": "mcl", "type": "quantitative", "scale": {"domain": [-0.1, 1], "nice": false, "zero": false},
      "axis": {"orient": "left", "values": [0,0.1,0.2,0.3,0.4,0.5,0.6,0.7,0.8,0.9,1],
        "labelExpr": "abs(datum.value*5 - round(datum.value*5)) < 0.000001 ? format(datum.value, '~g') : ''",
        "tickSize": {"condition": {"test": "abs(datum.value*5 - round(datum.value*5)) < 0.000001", "value": -8}, "value": -4},
        "labelPadding": 15, "title": "xs⁺(x,Q)", "titleX": -37, "titleBaseline": "middle"}},
    "y2": {"field": "mcu"},
    "fill": {"datum": "Monte Carlo", "type": "nominal", "scale": {"domain": ["Monte Carlo", "Hessian"], "range": ["#10e810", "#8585d5"]},
      "legend": {"title": null, "orient": "none", "legendX": 155, "legendY": 8, "symbolType": "M-1.3,-1H1.3V1H-1.3Z", "symbolSize": 400, "symbolStrokeWidth": 0, "symbolOpacity": 1, "labelFontSize": 16, "labelFont": "Liberation Sans", "labelColor": "#000", "rowPadding": 8, "labelOffset": 6, "padding": 0}}
   }},
  {"mark": {"type": "area", "clip": true, "interpolate": "monotone", "opacity": 1, "fill": {"gradient": "linear", "x1": 0, "y1": 1, "x2": 1.2, "y2": 0.364, "stops": [
{"offset":0,"color":"#118d"},{"offset":0.005,"color":"#1180"},{"offset":0.01,"color":"#118d"},{"offset":0.015,"color":"#1180"},{"offset":0.02,"color":"#118d"},{"offset":0.025,"color":"#1180"},{"offset":0.03,"color":"#118d"},{"offset":0.035,"color":"#1180"},{"offset":0.04,"color":"#118d"},{"offset":0.045,"color":"#1180"},
{"offset":0.05,"color":"#118d"},{"offset":0.055,"color":"#1180"},{"offset":0.06,"color":"#118d"},{"offset":0.065,"color":"#1180"},{"offset":0.07,"color":"#118d"},{"offset":0.075,"color":"#1180"},{"offset":0.08,"color":"#118d"},{"offset":0.085,"color":"#1180"},{"offset":0.09,"color":"#118d"},{"offset":0.095,"color":"#1180"},
{"offset":0.1,"color":"#118d"},{"offset":0.105,"color":"#1180"},{"offset":0.11,"color":"#118d"},{"offset":0.115,"color":"#1180"},{"offset":0.12,"color":"#118d"},{"offset":0.125,"color":"#1180"},{"offset":0.13,"color":"#118d"},{"offset":0.135,"color":"#1180"},{"offset":0.14,"color":"#118d"},{"offset":0.145,"color":"#1180"},
{"offset":0.15,"color":"#118d"},{"offset":0.155,"color":"#1180"},{"offset":0.16,"color":"#118d"},{"offset":0.165,"color":"#1180"},{"offset":0.17,"color":"#118d"},{"offset":0.175,"color":"#1180"},{"offset":0.18,"color":"#118d"},{"offset":0.185,"color":"#1180"},{"offset":0.19,"color":"#118d"},{"offset":0.195,"color":"#1180"},
{"offset":0.2,"color":"#118d"},{"offset":0.205,"color":"#1180"},{"offset":0.21,"color":"#118d"},{"offset":0.215,"color":"#1180"},{"offset":0.22,"color":"#118d"},{"offset":0.225,"color":"#1180"},{"offset":0.23,"color":"#118d"},{"offset":0.235,"color":"#1180"},{"offset":0.24,"color":"#118d"},{"offset":0.245,"color":"#1180"},
{"offset":0.25,"color":"#118d"},{"offset":0.255,"color":"#1180"},{"offset":0.26,"color":"#118d"},{"offset":0.265,"color":"#1180"},{"offset":0.27,"color":"#118d"},{"offset":0.275,"color":"#1180"},{"offset":0.28,"color":"#118d"},{"offset":0.285,"color":"#1180"},{"offset":0.29,"color":"#118d"},{"offset":0.295,"color":"#1180"},
{"offset":0.3,"color":"#118d"},{"offset":0.305,"color":"#1180"},{"offset":0.31,"color":"#118d"},{"offset":0.315,"color":"#1180"},{"offset":0.32,"color":"#118d"},{"offset":0.325,"color":"#1180"},{"offset":0.33,"color":"#118d"},{"offset":0.335,"color":"#1180"},{"offset":0.34,"color":"#118d"},{"offset":0.345,"color":"#1180"},
{"offset":0.35,"color":"#118d"},{"offset":0.355,"color":"#1180"},{"offset":0.36,"color":"#118d"},{"offset":0.365,"color":"#1180"},{"offset":0.37,"color":"#118d"},{"offset":0.375,"color":"#1180"},{"offset":0.38,"color":"#118d"},{"offset":0.385,"color":"#1180"},{"offset":0.39,"color":"#118d"},{"offset":0.395,"color":"#1180"},
{"offset":0.4,"color":"#118d"},{"offset":0.405,"color":"#1180"},{"offset":0.41,"color":"#118d"},{"offset":0.415,"color":"#1180"},{"offset":0.42,"color":"#118d"},{"offset":0.425,"color":"#1180"},{"offset":0.43,"color":"#118d"},{"offset":0.435,"color":"#1180"},{"offset":0.44,"color":"#118d"},{"offset":0.445,"color":"#1180"},
{"offset":0.45,"color":"#118d"},{"offset":0.455,"color":"#1180"},{"offset":0.46,"color":"#118d"},{"offset":0.465,"color":"#1180"},{"offset":0.47,"color":"#118d"},{"offset":0.475,"color":"#1180"},{"offset":0.48,"color":"#118d"},{"offset":0.485,"color":"#1180"},{"offset":0.49,"color":"#118d"},{"offset":0.495,"color":"#1180"},
{"offset":0.5,"color":"#118d"},{"offset":0.505,"color":"#1180"},{"offset":0.51,"color":"#118d"},{"offset":0.515,"color":"#1180"},{"offset":0.52,"color":"#118d"},{"offset":0.525,"color":"#1180"},{"offset":0.53,"color":"#118d"},{"offset":0.535,"color":"#1180"},{"offset":0.54,"color":"#118d"},{"offset":0.545,"color":"#1180"},
{"offset":0.55,"color":"#118d"},{"offset":0.555,"color":"#1180"},{"offset":0.56,"color":"#118d"},{"offset":0.565,"color":"#1180"},{"offset":0.57,"color":"#118d"},{"offset":0.575,"color":"#1180"},{"offset":0.58,"color":"#118d"},{"offset":0.585,"color":"#1180"},{"offset":0.59,"color":"#118d"},{"offset":0.595,"color":"#1180"},
{"offset":0.6,"color":"#118d"},{"offset":0.605,"color":"#1180"},{"offset":0.61,"color":"#118d"},{"offset":0.615,"color":"#1180"},{"offset":0.62,"color":"#118d"},{"offset":0.625,"color":"#1180"},{"offset":0.63,"color":"#118d"},{"offset":0.635,"color":"#1180"},{"offset":0.64,"color":"#118d"},{"offset":0.645,"color":"#1180"},
{"offset":0.65,"color":"#118d"},{"offset":0.655,"color":"#1180"},{"offset":0.66,"color":"#118d"},{"offset":0.665,"color":"#1180"},{"offset":0.67,"color":"#118d"},{"offset":0.675,"color":"#1180"},{"offset":0.68,"color":"#118d"},{"offset":0.685,"color":"#1180"},{"offset":0.69,"color":"#118d"},{"offset":0.695,"color":"#1180"},
{"offset":0.7,"color":"#118d"},{"offset":0.705,"color":"#1180"},{"offset":0.71,"color":"#118d"},{"offset":0.715,"color":"#1180"},{"offset":0.72,"color":"#118d"},{"offset":0.725,"color":"#1180"},{"offset":0.73,"color":"#118d"},{"offset":0.735,"color":"#1180"},{"offset":0.74,"color":"#118d"},{"offset":0.745,"color":"#1180"},
{"offset":0.75,"color":"#118d"},{"offset":0.755,"color":"#1180"},{"offset":0.76,"color":"#118d"},{"offset":0.765,"color":"#1180"},{"offset":0.77,"color":"#118d"},{"offset":0.775,"color":"#1180"},{"offset":0.78,"color":"#118d"},{"offset":0.785,"color":"#1180"},{"offset":0.79,"color":"#118d"},{"offset":0.795,"color":"#1180"},
{"offset":0.8,"color":"#118d"},{"offset":0.805,"color":"#1180"},{"offset":0.81,"color":"#118d"},{"offset":0.815,"color":"#1180"},{"offset":0.82,"color":"#118d"},{"offset":0.825,"color":"#1180"},{"offset":0.83,"color":"#118d"},{"offset":0.835,"color":"#1180"},{"offset":0.84,"color":"#118d"},{"offset":0.845,"color":"#1180"},
{"offset":0.85,"color":"#118d"},{"offset":0.855,"color":"#1180"},{"offset":0.86,"color":"#118d"},{"offset":0.865,"color":"#1180"},{"offset":0.87,"color":"#118d"},{"offset":0.875,"color":"#1180"},{"offset":0.88,"color":"#118d"},{"offset":0.885,"color":"#1180"},{"offset":0.89,"color":"#118d"},{"offset":0.895,"color":"#1180"},
{"offset":0.9,"color":"#118d"},{"offset":0.905,"color":"#1180"},{"offset":0.91,"color":"#118d"},{"offset":0.915,"color":"#1180"},{"offset":0.92,"color":"#118d"},{"offset":0.925,"color":"#1180"},{"offset":0.93,"color":"#118d"},{"offset":0.935,"color":"#1180"},{"offset":0.94,"color":"#118d"},{"offset":0.945,"color":"#1180"},
{"offset":0.95,"color":"#118d"},{"offset":0.955,"color":"#1180"},{"offset":0.96,"color":"#118d"},{"offset":0.965,"color":"#1180"},{"offset":0.97,"color":"#118d"},{"offset":0.975,"color":"#1180"},{"offset":0.98,"color":"#118d"},{"offset":0.985,"color":"#1180"},{"offset":0.99,"color":"#118d"},{"offset":0.995,"color":"#1180"},
{"offset":1,"color":"#118d"}]}},
   "encoding": {"x": {"field": "x", "type": "quantitative", "axis": null}, "y": {"field": "hl", "type": "quantitative", "axis": null}, "y2": {"field": "hu"}}},
  {"mark": {"type": "line", "clip": true, "stroke": "#10107a", "strokeWidth": 1.5, "interpolate": "monotone"},
   "encoding": {"x": {"field": "x", "type": "quantitative", "axis": null}, "y": {"field": "hu", "type": "quantitative", "axis": null}}},
  {"mark": {"type": "line", "clip": true, "stroke": "#10107a", "strokeWidth": 1.5, "interpolate": "monotone"},
   "encoding": {"x": {"field": "x", "type": "quantitative", "axis": null}, "y": {"field": "hl", "type": "quantitative", "axis": null}}},
  {"mark": {"type": "line", "clip": true, "stroke": "#1a3a7a", "strokeWidth": 1.4, "strokeDash": [4, 3], "interpolate": "monotone"},
   "encoding": {"x": {"field": "x", "type": "quantitative", "axis": null}, "y": {"field": "c", "type": "quantitative", "axis": null}}},
  {"mark": {"type": "line", "opacity": 0},
   "encoding": {
    "x": {"field": "x", "type": "quantitative", "axis": {"orient": "top", "values": [0.001,0.002,0.003,0.004,0.005,0.006,0.007,0.008,0.009,0.01,0.02,0.03,0.04,0.05,0.06,0.07,0.08,0.09,0.1,0.2,0.3,0.4,0.5,0.6,0.7,0.8,0.9,1], "labels": false, "title": null,
      "tickSize": {"condition": {"test": "abs(log(datum.value)/LN10 - round(log(datum.value)/LN10)) < 0.000001", "value": -8}, "value": -4}}},
    "y": {"field": "c", "type": "quantitative", "axis": {"orient": "right", "values": [0,0.1,0.2,0.3,0.4,0.5,0.6,0.7,0.8,0.9,1], "labels": false,
      "tickSize": {"condition": {"test": "abs(datum.value*5 - round(datum.value*5)) < 0.000001", "value": -8}, "value": -4},
      "title": "Generated with APFEL 3.0.0 Web", "titleAngle": 270, "titleX": 16, "titleBaseline": "middle", "titleFontStyle": "italic", "titleFontWeight": "bold", "titleFontSize": 10.7}}
   }}
 ]
},
{
 "width": 316, "height": 213,
 "title": {"text": "NNPDF3.0 NLO, αₛ=0.118 @ Q² = 2 GeV²"},
 "data": {"values": [
{"x":0.00001,"mcu":0.021,"mcl":0.005,"hu":0.023,"hl":0.003,"c":0.013},
{"x":0.0000316,"mcu":0.03,"mcl":0.014,"hu":0.032,"hl":0.012,"c":0.022},
{"x":0.0001,"mcu":0.043,"mcl":0.027,"hu":0.045,"hl":0.025,"c":0.035},
{"x":0.000316,"mcu":0.063,"mcl":0.047,"hu":0.065,"hl":0.045,"c":0.055},
{"x":0.001,"mcu":0.089,"mcl":0.071,"hu":0.091,"hl":0.069,"c":0.08},
{"x":0.00316,"mcu":0.135,"mcl":0.115,"hu":0.137,"hl":0.113,"c":0.125},
{"x":0.00562,"mcu":0.171,"mcl":0.149,"hu":0.173,"hl":0.147,"c":0.16},
{"x":0.01,"mcu":0.218,"mcl":0.192,"hu":0.22,"hl":0.19,"c":0.205},
{"x":0.0178,"mcu":0.295,"mcl":0.265,"hu":0.297,"hl":0.263,"c":0.28},
{"x":0.0316,"mcu":0.427,"mcl":0.393,"hu":0.429,"hl":0.391,"c":0.41},
{"x":0.0562,"mcu":0.618,"mcl":0.582,"hu":0.62,"hl":0.58,"c":0.6},
{"x":0.1,"mcu":0.82,"mcl":0.78,"hu":0.822,"hl":0.778,"c":0.8},
{"x":0.141,"mcu":0.95,"mcl":0.91,"hu":0.952,"hl":0.908,"c":0.93},
{"x":0.178,"mcu":1.005,"mcl":0.965,"hu":1.007,"hl":0.963,"c":0.985},
{"x":0.209,"mcu":1.02,"mcl":0.98,"hu":1.022,"hl":0.978,"c":1.0},
{"x":0.251,"mcu":0.995,"mcl":0.955,"hu":0.997,"hl":0.953,"c":0.975},
{"x":0.316,"mcu":0.878,"mcl":0.842,"hu":0.88,"hl":0.84,"c":0.86},
{"x":0.398,"mcu":0.685,"mcl":0.655,"hu":0.687,"hl":0.653,"c":0.67},
{"x":0.501,"mcu":0.462,"mcl":0.438,"hu":0.464,"hl":0.436,"c":0.45},
{"x":0.631,"mcu":0.22,"mcl":0.2,"hu":0.222,"hl":0.198,"c":0.21},
{"x":0.759,"mcu":0.058,"mcl":0.042,"hu":0.06,"hl":0.04,"c":0.05},
{"x":0.891,"mcu":0.011,"mcl":-0.001,"hu":0.013,"hl":-0.003,"c":0.005}
 ]},
 "resolve": {"axis": {"x": "independent", "y": "independent"}},
 "layer": [
  {"mark": {"type": "area", "clip": true, "opacity": 1, "interpolate": "monotone"},
   "encoding": {
    "x": {"field": "x", "type": "quantitative", "scale": {"type": "log", "domain": [0.00001, 1], "nice": false},
      "axis": {"orient": "bottom", "values": [0.00001,0.00002,0.00003,0.00004,0.00005,0.00006,0.00007,0.00008,0.00009,0.0001,0.0002,0.0003,0.0004,0.0005,0.0006,0.0007,0.0008,0.0009,0.001,0.002,0.003,0.004,0.005,0.006,0.007,0.008,0.009,0.01,0.02,0.03,0.04,0.05,0.06,0.07,0.08,0.09,0.1,0.2,0.3,0.4,0.5,0.6,0.7,0.8,0.9,1],
        "labelExpr": "abs(log(datum.value)/LN10 - round(log(datum.value)/LN10)) > 0.000001 ? '' : (round(log(datum.value)/LN10) == 0 ? '1' : '10' + ['⁻⁵','⁻⁴','⁻³','⁻²','⁻¹'][round(log(datum.value)/LN10) + 5])",
        "tickSize": {"condition": {"test": "abs(log(datum.value)/LN10 - round(log(datum.value)/LN10)) < 0.000001", "value": -8}, "value": -4},
        "labelPadding": 15, "title": "x", "titleX": 158, "titleY": 29, "titleBaseline": "middle", "titleFontSize": 16}},
    "y": {"field": "mcl", "type": "quantitative", "scale": {"domain": [-0.1, 1.6], "nice": false, "zero": false},
      "axis": {"orient": "left", "values": [0,0.1,0.2,0.3,0.4,0.5,0.6,0.7,0.8,0.9,1,1.1,1.2,1.3,1.4,1.5,1.6],
        "labelExpr": "abs(datum.value*5 - round(datum.value*5)) < 0.000001 ? format(datum.value, '~g') : ''",
        "tickSize": {"condition": {"test": "abs(datum.value*5 - round(datum.value*5)) < 0.000001", "value": -8}, "value": -4},
        "labelPadding": 15, "title": "xV(x,Q)", "titleX": -37, "titleBaseline": "middle"}},
    "y2": {"field": "mcu"},
    "fill": {"datum": "Monte Carlo", "type": "nominal", "scale": {"domain": ["Monte Carlo", "Hessian"], "range": ["#10e810", "#8585d5"]},
      "legend": {"title": null, "orient": "none", "legendX": 155, "legendY": 8, "symbolType": "M-1.3,-1H1.3V1H-1.3Z", "symbolSize": 400, "symbolStrokeWidth": 0, "symbolOpacity": 1, "labelFontSize": 16, "labelFont": "Liberation Sans", "labelColor": "#000", "rowPadding": 8, "labelOffset": 6, "padding": 0}}
   }},
  {"mark": {"type": "area", "clip": true, "interpolate": "monotone", "opacity": 1, "fill": {"gradient": "linear", "x1": 0, "y1": 1, "x2": 1.2, "y2": 0.364, "stops": [
{"offset":0,"color":"#118d"},{"offset":0.005,"color":"#1180"},{"offset":0.01,"color":"#118d"},{"offset":0.015,"color":"#1180"},{"offset":0.02,"color":"#118d"},{"offset":0.025,"color":"#1180"},{"offset":0.03,"color":"#118d"},{"offset":0.035,"color":"#1180"},{"offset":0.04,"color":"#118d"},{"offset":0.045,"color":"#1180"},
{"offset":0.05,"color":"#118d"},{"offset":0.055,"color":"#1180"},{"offset":0.06,"color":"#118d"},{"offset":0.065,"color":"#1180"},{"offset":0.07,"color":"#118d"},{"offset":0.075,"color":"#1180"},{"offset":0.08,"color":"#118d"},{"offset":0.085,"color":"#1180"},{"offset":0.09,"color":"#118d"},{"offset":0.095,"color":"#1180"},
{"offset":0.1,"color":"#118d"},{"offset":0.105,"color":"#1180"},{"offset":0.11,"color":"#118d"},{"offset":0.115,"color":"#1180"},{"offset":0.12,"color":"#118d"},{"offset":0.125,"color":"#1180"},{"offset":0.13,"color":"#118d"},{"offset":0.135,"color":"#1180"},{"offset":0.14,"color":"#118d"},{"offset":0.145,"color":"#1180"},
{"offset":0.15,"color":"#118d"},{"offset":0.155,"color":"#1180"},{"offset":0.16,"color":"#118d"},{"offset":0.165,"color":"#1180"},{"offset":0.17,"color":"#118d"},{"offset":0.175,"color":"#1180"},{"offset":0.18,"color":"#118d"},{"offset":0.185,"color":"#1180"},{"offset":0.19,"color":"#118d"},{"offset":0.195,"color":"#1180"},
{"offset":0.2,"color":"#118d"},{"offset":0.205,"color":"#1180"},{"offset":0.21,"color":"#118d"},{"offset":0.215,"color":"#1180"},{"offset":0.22,"color":"#118d"},{"offset":0.225,"color":"#1180"},{"offset":0.23,"color":"#118d"},{"offset":0.235,"color":"#1180"},{"offset":0.24,"color":"#118d"},{"offset":0.245,"color":"#1180"},
{"offset":0.25,"color":"#118d"},{"offset":0.255,"color":"#1180"},{"offset":0.26,"color":"#118d"},{"offset":0.265,"color":"#1180"},{"offset":0.27,"color":"#118d"},{"offset":0.275,"color":"#1180"},{"offset":0.28,"color":"#118d"},{"offset":0.285,"color":"#1180"},{"offset":0.29,"color":"#118d"},{"offset":0.295,"color":"#1180"},
{"offset":0.3,"color":"#118d"},{"offset":0.305,"color":"#1180"},{"offset":0.31,"color":"#118d"},{"offset":0.315,"color":"#1180"},{"offset":0.32,"color":"#118d"},{"offset":0.325,"color":"#1180"},{"offset":0.33,"color":"#118d"},{"offset":0.335,"color":"#1180"},{"offset":0.34,"color":"#118d"},{"offset":0.345,"color":"#1180"},
{"offset":0.35,"color":"#118d"},{"offset":0.355,"color":"#1180"},{"offset":0.36,"color":"#118d"},{"offset":0.365,"color":"#1180"},{"offset":0.37,"color":"#118d"},{"offset":0.375,"color":"#1180"},{"offset":0.38,"color":"#118d"},{"offset":0.385,"color":"#1180"},{"offset":0.39,"color":"#118d"},{"offset":0.395,"color":"#1180"},
{"offset":0.4,"color":"#118d"},{"offset":0.405,"color":"#1180"},{"offset":0.41,"color":"#118d"},{"offset":0.415,"color":"#1180"},{"offset":0.42,"color":"#118d"},{"offset":0.425,"color":"#1180"},{"offset":0.43,"color":"#118d"},{"offset":0.435,"color":"#1180"},{"offset":0.44,"color":"#118d"},{"offset":0.445,"color":"#1180"},
{"offset":0.45,"color":"#118d"},{"offset":0.455,"color":"#1180"},{"offset":0.46,"color":"#118d"},{"offset":0.465,"color":"#1180"},{"offset":0.47,"color":"#118d"},{"offset":0.475,"color":"#1180"},{"offset":0.48,"color":"#118d"},{"offset":0.485,"color":"#1180"},{"offset":0.49,"color":"#118d"},{"offset":0.495,"color":"#1180"},
{"offset":0.5,"color":"#118d"},{"offset":0.505,"color":"#1180"},{"offset":0.51,"color":"#118d"},{"offset":0.515,"color":"#1180"},{"offset":0.52,"color":"#118d"},{"offset":0.525,"color":"#1180"},{"offset":0.53,"color":"#118d"},{"offset":0.535,"color":"#1180"},{"offset":0.54,"color":"#118d"},{"offset":0.545,"color":"#1180"},
{"offset":0.55,"color":"#118d"},{"offset":0.555,"color":"#1180"},{"offset":0.56,"color":"#118d"},{"offset":0.565,"color":"#1180"},{"offset":0.57,"color":"#118d"},{"offset":0.575,"color":"#1180"},{"offset":0.58,"color":"#118d"},{"offset":0.585,"color":"#1180"},{"offset":0.59,"color":"#118d"},{"offset":0.595,"color":"#1180"},
{"offset":0.6,"color":"#118d"},{"offset":0.605,"color":"#1180"},{"offset":0.61,"color":"#118d"},{"offset":0.615,"color":"#1180"},{"offset":0.62,"color":"#118d"},{"offset":0.625,"color":"#1180"},{"offset":0.63,"color":"#118d"},{"offset":0.635,"color":"#1180"},{"offset":0.64,"color":"#118d"},{"offset":0.645,"color":"#1180"},
{"offset":0.65,"color":"#118d"},{"offset":0.655,"color":"#1180"},{"offset":0.66,"color":"#118d"},{"offset":0.665,"color":"#1180"},{"offset":0.67,"color":"#118d"},{"offset":0.675,"color":"#1180"},{"offset":0.68,"color":"#118d"},{"offset":0.685,"color":"#1180"},{"offset":0.69,"color":"#118d"},{"offset":0.695,"color":"#1180"},
{"offset":0.7,"color":"#118d"},{"offset":0.705,"color":"#1180"},{"offset":0.71,"color":"#118d"},{"offset":0.715,"color":"#1180"},{"offset":0.72,"color":"#118d"},{"offset":0.725,"color":"#1180"},{"offset":0.73,"color":"#118d"},{"offset":0.735,"color":"#1180"},{"offset":0.74,"color":"#118d"},{"offset":0.745,"color":"#1180"},
{"offset":0.75,"color":"#118d"},{"offset":0.755,"color":"#1180"},{"offset":0.76,"color":"#118d"},{"offset":0.765,"color":"#1180"},{"offset":0.77,"color":"#118d"},{"offset":0.775,"color":"#1180"},{"offset":0.78,"color":"#118d"},{"offset":0.785,"color":"#1180"},{"offset":0.79,"color":"#118d"},{"offset":0.795,"color":"#1180"},
{"offset":0.8,"color":"#118d"},{"offset":0.805,"color":"#1180"},{"offset":0.81,"color":"#118d"},{"offset":0.815,"color":"#1180"},{"offset":0.82,"color":"#118d"},{"offset":0.825,"color":"#1180"},{"offset":0.83,"color":"#118d"},{"offset":0.835,"color":"#1180"},{"offset":0.84,"color":"#118d"},{"offset":0.845,"color":"#1180"},
{"offset":0.85,"color":"#118d"},{"offset":0.855,"color":"#1180"},{"offset":0.86,"color":"#118d"},{"offset":0.865,"color":"#1180"},{"offset":0.87,"color":"#118d"},{"offset":0.875,"color":"#1180"},{"offset":0.88,"color":"#118d"},{"offset":0.885,"color":"#1180"},{"offset":0.89,"color":"#118d"},{"offset":0.895,"color":"#1180"},
{"offset":0.9,"color":"#118d"},{"offset":0.905,"color":"#1180"},{"offset":0.91,"color":"#118d"},{"offset":0.915,"color":"#1180"},{"offset":0.92,"color":"#118d"},{"offset":0.925,"color":"#1180"},{"offset":0.93,"color":"#118d"},{"offset":0.935,"color":"#1180"},{"offset":0.94,"color":"#118d"},{"offset":0.945,"color":"#1180"},
{"offset":0.95,"color":"#118d"},{"offset":0.955,"color":"#1180"},{"offset":0.96,"color":"#118d"},{"offset":0.965,"color":"#1180"},{"offset":0.97,"color":"#118d"},{"offset":0.975,"color":"#1180"},{"offset":0.98,"color":"#118d"},{"offset":0.985,"color":"#1180"},{"offset":0.99,"color":"#118d"},{"offset":0.995,"color":"#1180"},
{"offset":1,"color":"#118d"}]}},
   "encoding": {"x": {"field": "x", "type": "quantitative", "axis": null}, "y": {"field": "hl", "type": "quantitative", "axis": null}, "y2": {"field": "hu"}}},
  {"mark": {"type": "line", "clip": true, "stroke": "#10107a", "strokeWidth": 1.5, "interpolate": "monotone"},
   "encoding": {"x": {"field": "x", "type": "quantitative", "axis": null}, "y": {"field": "hu", "type": "quantitative", "axis": null}}},
  {"mark": {"type": "line", "clip": true, "stroke": "#10107a", "strokeWidth": 1.5, "interpolate": "monotone"},
   "encoding": {"x": {"field": "x", "type": "quantitative", "axis": null}, "y": {"field": "hl", "type": "quantitative", "axis": null}}},
  {"mark": {"type": "line", "clip": true, "stroke": "#1a3a7a", "strokeWidth": 1.4, "strokeDash": [4, 3], "interpolate": "monotone"},
   "encoding": {"x": {"field": "x", "type": "quantitative", "axis": null}, "y": {"field": "c", "type": "quantitative", "axis": null}}},
  {"mark": {"type": "line", "opacity": 0},
   "encoding": {
    "x": {"field": "x", "type": "quantitative", "axis": {"orient": "top", "values": [0.00001,0.00002,0.00003,0.00004,0.00005,0.00006,0.00007,0.00008,0.00009,0.0001,0.0002,0.0003,0.0004,0.0005,0.0006,0.0007,0.0008,0.0009,0.001,0.002,0.003,0.004,0.005,0.006,0.007,0.008,0.009,0.01,0.02,0.03,0.04,0.05,0.06,0.07,0.08,0.09,0.1,0.2,0.3,0.4,0.5,0.6,0.7,0.8,0.9,1], "labels": false, "title": null,
      "tickSize": {"condition": {"test": "abs(log(datum.value)/LN10 - round(log(datum.value)/LN10)) < 0.000001", "value": -8}, "value": -4}}},
    "y": {"field": "c", "type": "quantitative", "axis": {"orient": "right", "values": [0,0.1,0.2,0.3,0.4,0.5,0.6,0.7,0.8,0.9,1,1.1,1.2,1.3,1.4,1.5,1.6], "labels": false,
      "tickSize": {"condition": {"test": "abs(datum.value*5 - round(datum.value*5)) < 0.000001", "value": -8}, "value": -4},
      "title": "Generated with APFEL 3.0.0 Web", "titleAngle": 270, "titleX": 16, "titleBaseline": "middle", "titleFontStyle": "italic", "titleFontWeight": "bold", "titleFontSize": 10.7}}
   }}
 ]
}
],
"config": {
 "font": "Liberation Sans",
 "view": {"stroke": "#000", "strokeWidth": 1},
 "axis": {"domain": false, "grid": false, "tickColor": "#000", "tickWidth": 1, "labelColor": "#000", "titleColor": "#000", "labelFontSize": 14, "titleFontSize": 15, "titleFontWeight": "normal", "labelFont": "Liberation Sans", "titleFont": "Liberation Sans", "labelFlush": false, "labelOverlap": false, "labelBound": false},
 "title": {"fontSize": 14, "fontWeight": "normal", "font": "Liberation Sans", "color": "#000", "offset": 4, "anchor": "middle", "frame": "group", "baseline": "bottom"}
}
}
